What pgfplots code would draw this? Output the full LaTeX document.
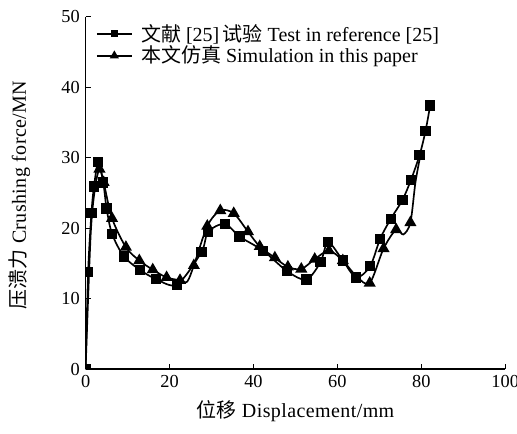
\documentclass[border=0pt]{standalone}
\usepackage{fontspec}
\setmainfont{Liberation Serif}
\newfontfamily\lab[LetterSpace=2]{Liberation Serif}
\newfontfamily\cjk{Noto Sans CJK SC}
\usepackage{pgfplots}
\pgfplotsset{compat=1.18}
\begin{document}
\begin{tikzpicture}[font=\fontsize{11pt}{13pt}\selectfont]
\begin{axis}[
  scale only axis, width=251.7pt, height=211.2pt,
  xmin=0, xmax=100, ymin=0, ymax=50,
  axis x line*=bottom, axis y line*=left,
  axis line style={-, line width=0.7pt},
  tick align=inside, major tick length=3pt,
  tick style={black, line width=0.6pt},
  xtick={0,20,...,100}, ytick={0,10,...,50},
  /pgf/number format/assume math mode=true,
  xlabel={{\cjk 位移} Displacement/mm},
  ylabel={{\cjk 压溃力} Crushing force/MN},
  label style={font=\fontsize{12pt}{14pt}\lab},
  xlabel style={at={(axis description cs:0.5,-0.119)}, anchor=center},
  ylabel style={at={(axis description cs:-0.157,0.494)}, anchor=center},
  legend style={at={(axis description cs:0.02,0.99)}, anchor=north west, draw=none, fill=none,
    row sep=-0.5pt, column sep=4pt, inner sep=1pt, font=\fontsize{12pt}{14pt}\selectfont,
    nodes={inner sep=1pt}},
  legend cell align=left,
  legend image code/.code={\draw[mark repeat=2,mark phase=2,#1] plot coordinates {(0pt,0pt) (10.5pt,0pt) (21pt,0pt)};},
  clip marker paths=true,
]
\addlegendimage{black, line width=1pt, mark=square*, mark size=1.7pt}
\addlegendentry{{\cjk 文献} [25]\,{\cjk 试验} Test in reference [25]}
\addlegendimage{black, line width=1pt, mark=triangle*, mark size=2.2pt}
\addlegendentry{{\cjk 本文仿真} Simulation in this paper}
\addplot[forget plot, black, line width=1pt, smooth, tension=0.5, mark=square*, mark size=2.6pt, mark options={solid}] coordinates {
(0,0) (0.6,13.8) (1.4,22.2) (2.0,25.9) (3.0,29.4) (4.2,26.5) (5.0,22.8) (6.3,19.2)
(9.1,16.0) (12.9,14.1) (16.7,12.8) (21.8,12.0) (27.6,16.6) (29.2,19.5) (33.2,20.6)
(36.7,18.8) (42.3,16.8) (48.0,13.9) (52.6,12.7) (56.0,15.2) (57.8,18.0) (61.3,15.4)
(64.5,13.0) (67.8,14.6) (70.2,18.5) (72.7,21.3) (75.5,24.0) (77.5,26.8) (79.6,30.4)
(81.0,33.8) (82.1,37.4)
};
\addplot[forget plot, black, line width=1pt, smooth, tension=0.5, mark=triangle*, mark size=3.2pt,
  mark indices={4,5,6,7,8,9,10,11,13,14,15,16,17,18,19,20,21,22,23,24,26,27,28,30}] coordinates {
(0,0) (1.2,19) (2.2,25.5) (3.3,28.4) (4.3,26.5) (6.3,21.4) (9.6,17.3) (12.8,15.4)
(16.0,14.1) (19.3,13.0) (22.5,12.6) (24.2,12.4) (25.8,14.7) (29.0,20.3) (32.1,22.5)
(35.3,22.1) (38.7,19.5) (41.5,17.4) (45.1,15.8) (48.2,14.5) (51.4,14.2) (54.6,15.6)
(58.0,16.8) (61.3,15.4) (64.5,13.2) (67.7,12.2) (71.0,17.1) (74.0,19.8) (75.7,19.1)
(77.4,20.8) (78.6,26.5) (79.8,30.4)
};
\coordinate (bbl) at (axis cs:-20.4,-9.09);
\coordinate (btr) at (axis cs:102.8,52.4);
\end{axis}
\pgfresetboundingbox
\path (bbl) rectangle (btr);
\end{tikzpicture}
\end{document}
